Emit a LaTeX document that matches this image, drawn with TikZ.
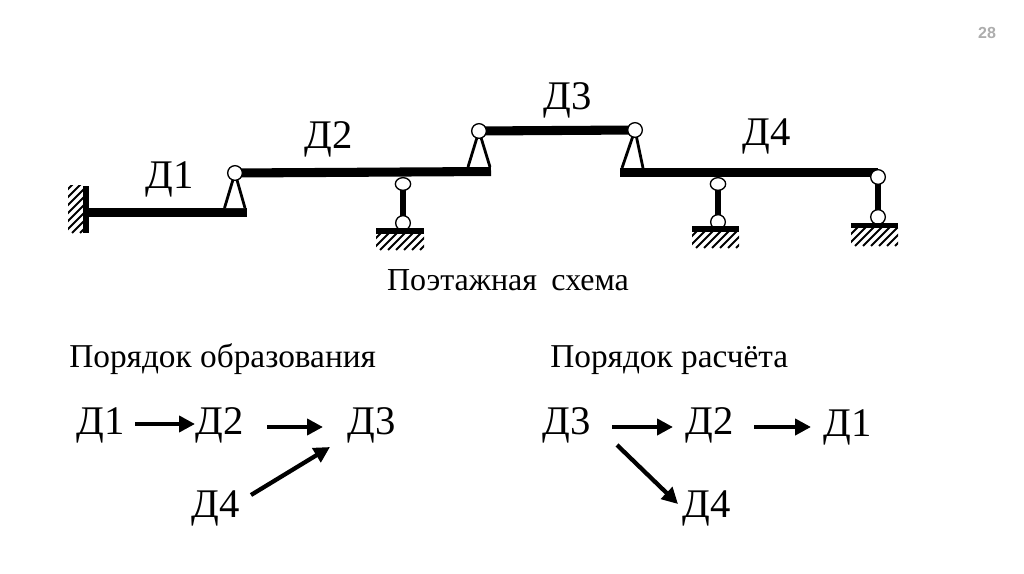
\documentclass[tikz,border=0pt]{standalone}
\usepackage{fontspec}
\setmainfont{Liberation Serif}
\newfontfamily\pagefont{Liberation Sans}
\usetikzlibrary{arrows.meta,backgrounds,shapes.geometric}
\tikzset{
  beam/.style={line width=6.8pt,line cap=butt},
  rod/.style={line width=4.7pt,line cap=butt},
  tri/.style={line width=2.1pt,line join=miter,fill=white},
  hinge/.style={circle,draw,line width=1pt,fill=white,minimum size=11pt,inner sep=0pt},
  flathinge/.style={ellipse,draw,line width=1pt,fill=white,minimum width=11.5pt,minimum height=9.5pt,inner sep=0pt},
  groundbar/.style={fill=black,draw=none},
  hatchline/.style={line width=1.5pt},
  big/.style={font=\fontsize{30.5}{30}\selectfont,inner sep=0pt,text height=22.5pt,text depth=5pt},
  captext/.style={font=\fontsize{25}{26}\selectfont,inner sep=0pt,text height=19.5pt,text depth=5pt},
  arr/.style={line width=3.2pt,-{Triangle[length=12pt,width=12pt]}},
}
\newcommand{\hatchbox}[4]{%
  \begin{scope}
    \clip (#1,#2) rectangle (#3,#4);
    \foreach \k in {-60,-52,...,60} {
      \draw[hatchline] ({#1+\k},#4) -- ++(70,-70);
    }
  \end{scope}}
\begin{document}
\begin{tikzpicture}[x=0.75pt,y=-0.75pt]
\useasboundingbox (0,0) rectangle (1024,574);

% hinges
\node[hinge] (h1) at (235,173) {};
\node[flathinge] (h2t) at (403,184) {};
\node[hinge] (h2b) at (403,223) {};
\node[hinge] (h3) at (479,131) {};
\node[hinge] (h4) at (635,130) {};
\node[flathinge] (h5t) at (718,184) {};
\node[hinge] (h5b) at (718,222) {};
\node[hinge] (h6t) at (878,177) {};
\node[hinge] (h6b) at (878,217) {};

% free ends
\coordinate (w) at (86,212.5);
\coordinate (e1) at (247,212.5);
\coordinate (e2) at (491,171.5);
\coordinate (e4) at (620,172.5);
\coordinate (e6) at (878,172.5);
\coordinate (b1l) at (224.5,208);
\coordinate (b1r) at (245,208);
\coordinate (b3l) at (468,167);
\coordinate (b3r) at (490,167);
\coordinate (b4l) at (622,168);
\coordinate (b4r) at (643,168);

\begin{scope}[on background layer]
  \fill[white] (0,0) rectangle (1024,574);
  \draw[beam] (w) -- (e1);
  \draw[beam] (h1.center) -- (e2);
  \draw[beam] (h3.center) -- (h4.center);
  \draw[beam] (e4) -- (e6);
  \draw[rod] (h2t.center) -- (h2b.center);
  \draw[rod] (h5t.center) -- (h5b.center);
  \draw[rod] (h6t.center) -- (h6b.center);
  \draw[tri] (b1l) -- (h1.center) -- (b1r);
  \draw[tri] (b3l) -- (h3.center) -- (b3r);
  \draw[tri] (b4l) -- (h4.center) -- (b4r);
\end{scope}

% fixed wall
\hatchbox{68}{186}{84}{233}
\fill[groundbar] (83,186) rectangle (89,233);

% grounds
\fill[groundbar] (376,228) rectangle (424,234);
\hatchbox{376}{234}{424}{250}
\fill[groundbar] (692,226) rectangle (739,232);
\hatchbox{692}{232}{739}{248}
\fill[groundbar] (851,223) rectangle (898,228);
\hatchbox{851}{228}{898}{246}

% labels on the scheme
\node[big] (l1) at (170,177) {Д1};
\node[big] (l2) at (329,137) {Д2};
\node[big] (l3) at (568,98) {Д3};
\node[big] (l4) at (767,134) {Д4};
\node[captext,font=\fontsize{24}{26}\selectfont] (t0) at (508,281) {Поэтажная\hspace{0.45em}схема};
\node[captext,anchor=west] (t1) at (69,358) {Порядок образования};
\node[captext,anchor=west] (t2) at (550,358) {Порядок расчёта};
\node[font=\pagefont\bfseries\fontsize{12}{13}\selectfont,text=black!32,inner sep=0pt] (pg) at (987,33) {28};

% left chain
\node[big] (a1) at (101,423) {Д1};
\node[big] (a2) at (220,423) {Д2};
\node[big] (a3) at (372,423) {Д3};
\node[big] (a4) at (216,506) {Д4};
\draw[arr] ([shift={(34,1)}]a1.center) -- ([shift={(-25,1)}]a2.center);
\draw[arr] ([shift={(47,4)}]a2.center) -- ([shift={(-49,4)}]a3.center);
\draw[arr] ([shift={(35,-11)}]a4.center) -- ([shift={(-42,24)}]a3.center);

% right chain
\node[big] (c3) at (567,423) {Д3};
\node[big] (c2) at (710,423) {Д2};
\node[big] (c1) at (848,425) {Д1};
\node[big] (c4) at (707,506) {Д4};
\draw[arr] ([shift={(45,4)}]c3.center) -- ([shift={(-37,4)}]c2.center);
\draw[arr] ([shift={(44,4)}]c2.center) -- ([shift={(-37,2)}]c1.center);
\draw[arr] ([shift={(50,22)}]c3.center) -- ([shift={(-29,-2)}]c4.center);
\end{tikzpicture}
\end{document}
